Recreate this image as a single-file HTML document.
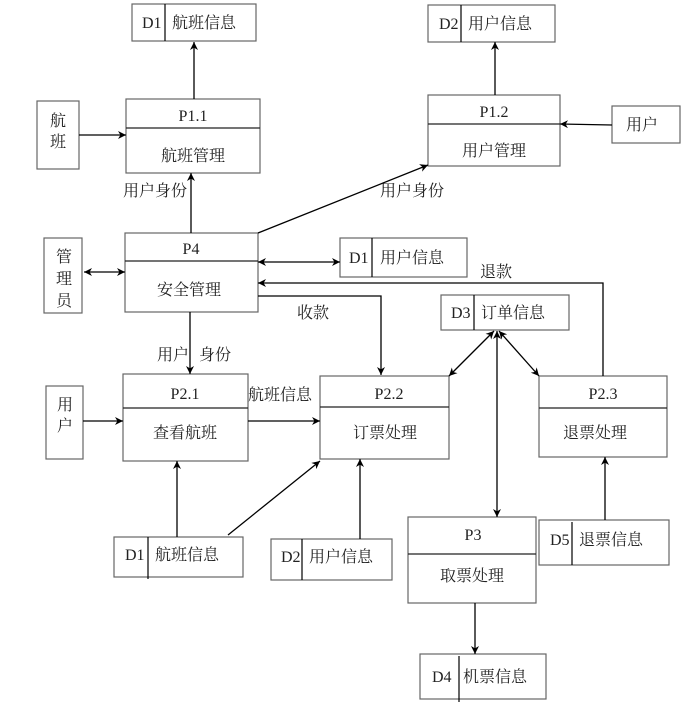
<!DOCTYPE html>
<html><head><meta charset="utf-8"><style>
html,body{margin:0;padding:0;background:#fff;}
svg text{font-family:"Liberation Serif","Noto Serif CJK SC",serif;font-size:16px;fill:#222;}
</style></head><body>
<svg width="692" height="709" viewBox="0 0 692 709" xmlns="http://www.w3.org/2000/svg">
<defs>
<marker id="a" viewBox="0 0 10 10" refX="10" refY="5" markerWidth="8" markerHeight="8" orient="auto-start-reverse" markerUnits="userSpaceOnUse">
<path d="M0,0 L10,5 L0,10 L3,5 z" fill="#000"/></marker>
</defs>
<g fill="none" stroke="#666" stroke-width="1.2">
<rect x="132" y="4" width="124" height="37"/><line x1="165" y1="4" x2="165" y2="41" stroke="#000"/>
<rect x="428" y="5" width="127" height="37"/><line x1="461" y1="5" x2="461" y2="42" stroke="#000"/>
<rect x="340" y="238" width="127" height="39"/><line x1="372" y1="238" x2="372" y2="277" stroke="#000"/>
<rect x="441" y="295" width="128" height="35"/><line x1="474" y1="295" x2="474" y2="330" stroke="#000"/>
<rect x="114" y="537" width="129" height="40"/><line x1="148" y1="537" x2="148" y2="579" stroke="#000"/>
<rect x="271" y="539" width="121" height="41"/><line x1="302" y1="539" x2="302" y2="580" stroke="#000"/>
<rect x="539" y="520" width="130" height="45"/><line x1="572" y1="522" x2="572" y2="565" stroke="#000"/>
<rect x="420" y="654" width="126" height="45"/><line x1="459" y1="656" x2="459" y2="702" stroke="#000"/>
<rect x="37" y="101" width="42" height="68"/>
<rect x="44" y="238" width="38" height="75"/>
<rect x="612" y="106" width="68" height="37"/>
<rect x="46" y="386" width="37" height="73"/>
<rect x="126" y="99" width="134" height="74"/><line x1="126" y1="128" x2="260" y2="128" stroke="#222"/>
<rect x="428" y="95" width="132" height="71"/><line x1="428" y1="124" x2="560" y2="124" stroke="#222"/>
<rect x="125" y="233" width="133" height="79"/><line x1="125" y1="261" x2="258" y2="261" stroke="#222"/>
<rect x="123" y="374" width="125" height="87"/><line x1="123" y1="408" x2="248" y2="408" stroke="#222"/>
<rect x="320" y="376" width="129" height="83"/><line x1="320" y1="407" x2="449" y2="407" stroke="#222"/>
<rect x="539" y="376" width="128" height="81"/><line x1="539" y1="408" x2="667" y2="408" stroke="#222"/>
<rect x="408" y="517" width="128" height="86"/><line x1="408" y1="554" x2="536" y2="554" stroke="#222"/>
</g>
<g fill="none" stroke="#000" stroke-width="1.3">
<line x1="194" y1="99" x2="194" y2="42" marker-end="url(#a)"/>
<line x1="79" y1="135" x2="126" y2="135" marker-end="url(#a)"/>
<line x1="191" y1="233" x2="191" y2="173" marker-end="url(#a)"/>
<line x1="495" y1="95" x2="495" y2="42" marker-end="url(#a)"/>
<line x1="612" y1="125" x2="560" y2="124" marker-end="url(#a)"/>
<line x1="258" y1="233" x2="428" y2="165" marker-end="url(#a)"/>
<line x1="84" y1="272" x2="125" y2="272" marker-start="url(#a)" marker-end="url(#a)"/>
<line x1="258" y1="262" x2="340" y2="262" marker-start="url(#a)" marker-end="url(#a)"/>
<polyline points="603,376 603,283 258,283" marker-end="url(#a)"/>
<polyline points="258,296 381,296 381,375" marker-end="url(#a)"/>
<line x1="190" y1="312" x2="190" y2="374" marker-end="url(#a)"/>
<line x1="83" y1="421" x2="123" y2="421" marker-end="url(#a)"/>
<line x1="248" y1="421" x2="320" y2="421" marker-end="url(#a)"/>
<line x1="494" y1="331" x2="449" y2="376" marker-start="url(#a)" marker-end="url(#a)"/>
<line x1="499" y1="331" x2="539" y2="376" marker-start="url(#a)" marker-end="url(#a)"/>
<line x1="497" y1="331" x2="497" y2="517" marker-start="url(#a)" marker-end="url(#a)"/>
<line x1="475" y1="603" x2="475" y2="654" marker-end="url(#a)"/>
<line x1="605" y1="520" x2="605" y2="457" marker-end="url(#a)"/>
<line x1="177" y1="537" x2="177" y2="461" marker-end="url(#a)"/>
<line x1="228" y1="535" x2="320" y2="461" marker-end="url(#a)"/>
<line x1="360" y1="539" x2="360" y2="459" marker-end="url(#a)"/>
</g>
<g>
<text x="142" y="28">D1</text><text x="172" y="28">航班信息</text>
<text x="439" y="29">D2</text><text x="468" y="29">用户信息</text>
<text x="349" y="263">D1</text><text x="380" y="263">用户信息</text>
<text x="451" y="318">D3</text><text x="481" y="318">订单信息</text>
<text x="125" y="560">D1</text><text x="155" y="560">航班信息</text>
<text x="281" y="562">D2</text><text x="309" y="562">用户信息</text>
<text x="550" y="545">D5</text><text x="579" y="545">退票信息</text>
<text x="432" y="682">D4</text><text x="463" y="682">机票信息</text>
<text x="50" y="126">航</text><text x="50" y="147">班</text>
<text x="56" y="262">管</text><text x="56" y="284">理</text><text x="56" y="306">员</text>
<text x="626" y="130">用户</text>
<text x="57" y="410">用</text><text x="57" y="431">户</text>
<g text-anchor="middle">
<text x="193" y="121">P1.1</text><text x="193" y="161">航班管理</text>
<text x="494" y="117">P1.2</text><text x="494" y="156">用户管理</text>
<text x="191" y="254">P4</text><text x="189" y="295">安全管理</text>
<text x="185" y="399">P2.1</text><text x="185" y="438">查看航班</text>
<text x="389" y="399">P2.2</text><text x="385" y="438">订票处理</text>
<text x="603" y="399">P2.3</text><text x="595" y="438">退票处理</text>
<text x="473" y="540">P3</text><text x="472" y="581">取票处理</text>
</g>
<text x="123" y="196">用户身份</text>
<text x="380" y="196">用户身份</text>
<text x="480" y="277">退款</text>
<text x="297" y="318">收款</text>
<text x="157" y="360">用户</text><text x="199" y="360">身份</text>
<text x="248" y="400">航班信息</text>
</g>
</svg>
</body></html>
